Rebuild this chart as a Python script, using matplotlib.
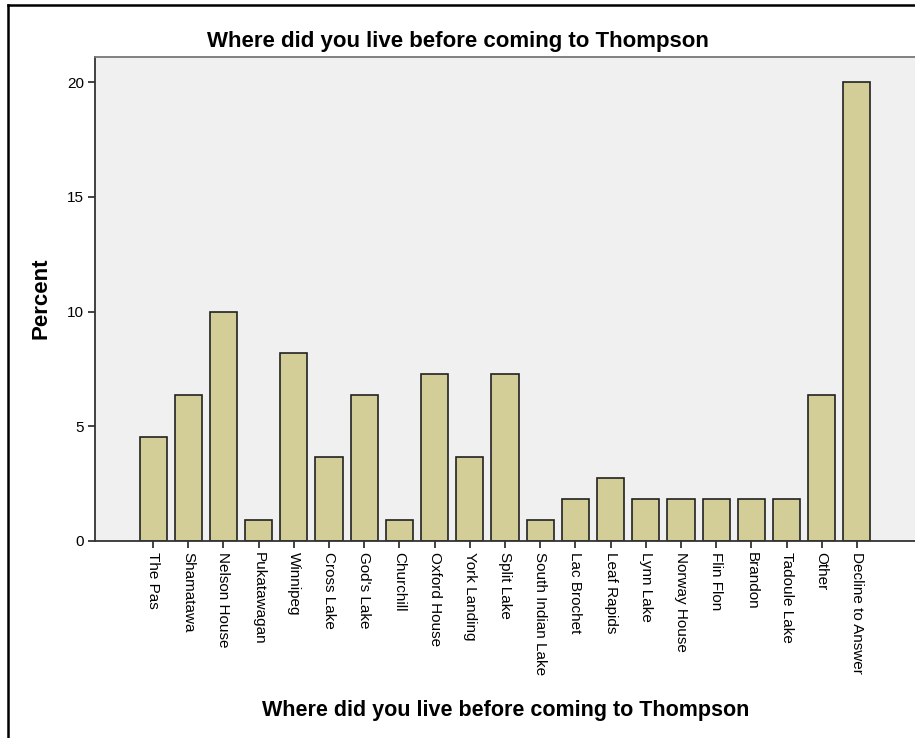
import matplotlib.pyplot as plt
from matplotlib.lines import Line2D

places = ["The Pas", "Shamatawa", "Nelson House", "Pukatawagan", "Winnipeg",
          "Cross Lake", "God's Lake", "Churchill", "Oxford House", "York Landing",
          "Split Lake", "South Indian Lake", "Lac Brochet", "Leaf Rapids",
          "Lynn Lake", "Norway House", "Flin Flon", "Brandon", "Tadoule Lake",
          "Other", "Decline to Answer"]
percent = [4.55, 6.36, 10.0, 0.91, 8.18, 3.64, 6.36, 0.91, 7.27, 3.64, 7.27,
           0.91, 1.82, 2.73, 1.82, 1.82, 1.82, 1.82, 1.82, 6.36, 20.0]
yticks = [0, 5, 10, 15, 20]

title = "Where did you live before coming to Thompson"

plt.rcParams['font.family'] = ['Liberation Sans', 'DejaVu Sans']

W, H = 915, 738
fig = plt.figure(figsize=(W / 100, H / 100), dpi=100)
ax = fig.add_axes([95 / W, 1 - 541 / H, 1 - 95 / W, (541 - 57) / H])
ax.set_facecolor('#f0f0f0')

x = list(range(len(places)))
ax.bar(x, percent, width=0.77, color='#d3ce97', edgecolor='#222222', linewidth=1.2, zorder=2)

ax.set_xlim(-1.65, len(places) - 1 + 1.65)
ax.set_ylim(0, 21.09)
ax.set_xticks(x)
ax.set_xticklabels(places, rotation=-90, fontsize=11)
ax.set_yticks(yticks)
ax.set_yticklabels([str(v) for v in yticks], fontsize=11)
ax.tick_params(direction='out', length=5, width=1.2, color='#222222', pad=3)

for s in ['left', 'bottom']:
    ax.spines[s].set_color('#333333')
    ax.spines[s].set_linewidth(1.3)
ax.spines['top'].set_color('#777777')
ax.spines['top'].set_linewidth(1.3)
ax.spines['right'].set_visible(False)

# titles placed in figure pixels to follow the original layout
fig.text(458 / W, 1 - 46.5 / H, title, fontsize=16, fontweight='bold',
         ha='center', va='baseline')
fig.text(506 / W, 1 - 716 / H, title, fontsize=15.5, fontweight='bold',
         ha='center', va='baseline')
fig.text(41 / W, 1 - 298 / H, 'Percent', fontsize=16, fontweight='bold',
         rotation=90, ha='center', va='center')

# outer frame of the original chart window
fig.add_artist(Line2D([8 / W, 8 / W], [0, 1 - 5 / H], color='black', linewidth=1.8))
fig.add_artist(Line2D([8 / W, 1], [1 - 5 / H, 1 - 5 / H], color='black', linewidth=1.8))

fig.savefig('out.png', dpi=100)
